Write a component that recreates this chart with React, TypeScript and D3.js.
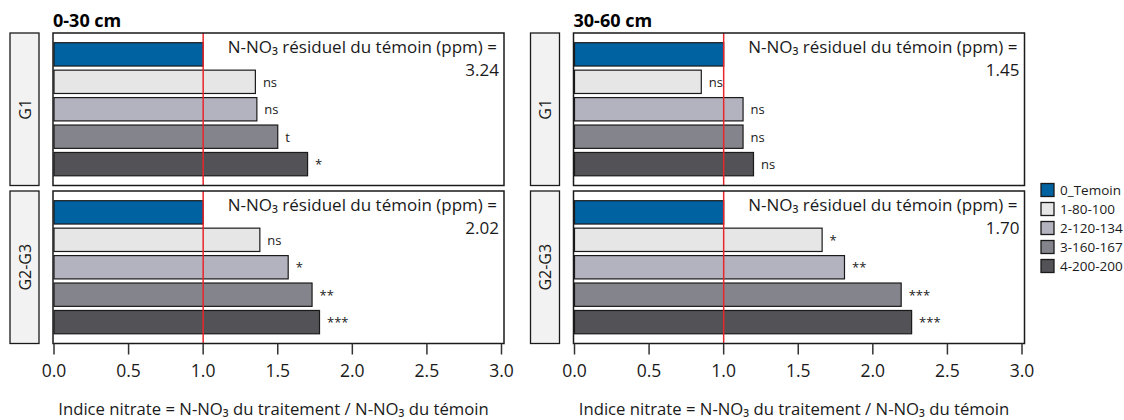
import React from "react";
import * as d3 from "d3";

const depths = ["0-30 cm", "30-60 cm"];
const groups = ["G1", "G2-G3"];
const treatments = ["0_Temoin", "1-80-100", "2-120-134", "3-160-167", "4-200-200"];
const colors = ["#0062A1", "#E6E6E6", "#B3B3BF", "#84848C", "#525257"];

const values_0_30_G1 = [1.0, 1.35, 1.36, 1.5, 1.7];
const values_0_30_G2G3 = [1.0, 1.38, 1.57, 1.73, 1.78];
const values_30_60_G1 = [1.0, 0.85, 1.13, 1.13, 1.2];
const values_30_60_G2G3 = [1.0, 1.66, 1.81, 2.19, 2.26];

const signif_0_30_G1 = ["", "ns", "ns", "t", "*"];
const signif_0_30_G2G3 = ["", "ns", "*", "**", "***"];
const signif_30_60_G1 = ["", "ns", "ns", "ns", "ns"];
const signif_30_60_G2G3 = ["", "*", "**", "***", "***"];

const residual_0_30 = ["3.24", "2.02"];
const residual_30_60 = ["1.45", "1.70"];

const xTicks = [0, 0.5, 1.0, 1.5, 2.0, 2.5, 3.0];

const annotationText = "N-NO₃ résiduel du témoin (ppm) =";
const axisTitle = "Indice nitrate = N-NO₃ du traitement / N-NO₃ du témoin";

const FONT = "'Open Sans', Lato, sans-serif";

const panelsData = [
  { values: [values_0_30_G1, values_0_30_G2G3], signif: [signif_0_30_G1, signif_0_30_G2G3], resid: residual_0_30 },
  { values: [values_30_60_G1, values_30_60_G2G3], signif: [signif_30_60_G1, signif_30_60_G2G3], resid: residual_30_60 },
];

export default function App() {
  const W = 1124;
  const H = 420;
  const panelLefts = [53, 573.5];
  const panelW = 451;
  const panelTops = [33, 191];
  const panelH = 152.5;

  const y = d3
    .scaleBand<string>()
    .domain(treatments)
    .range([0, panelH])
    .paddingInner(0.15)
    .paddingOuter(0.354);

  return (
    <svg
      width={W}
      height={H}
      viewBox={`0 0 ${W} ${H}`}
      style={{ position: "absolute", left: 0, top: 0, background: "#fff" }}
      fontFamily={FONT}
    >
      <rect x={0} y={0} width={W} height={H} fill="#fff" />
      {depths.map((depth, di) => {
        const pl = panelLefts[di];
        const x = d3.scaleLinear().domain([0, 3]).range([pl + 1, pl + 448.5]);
        const pd = panelsData[di];
        return (
          <g key={depth}>
            <text x={pl} y={27} fontSize={18} fontWeight="bold" fill="#000">
              {depth}
            </text>
            {groups.map((grp, gi) => {
              const pt = panelTops[gi];
              const vals = pd.values[gi];
              const sig = pd.signif[gi];
              return (
                <g key={grp}>
                  <rect
                    x={pl - 43}
                    y={pt}
                    width={29}
                    height={panelH}
                    fill="#F2F2F2"
                    stroke="#1a1a1a"
                    strokeWidth={1.3}
                  />
                  <text
                    transform={`translate(${pl - 28.5},${pt + panelH / 2}) rotate(-90)`}
                    textAnchor="middle"
                    dominantBaseline="central"
                    fontSize={16}
                    fill="#1a1a1a"
                  >
                    {grp}
                  </text>
                  <rect x={pl} y={pt} width={panelW} height={panelH} fill="#fff" />
                  {treatments.map((t, i) => (
                    <rect
                      key={t}
                      x={x(0)}
                      y={pt + (y(t) as number)}
                      width={x(vals[i]) - x(0)}
                      height={y.bandwidth()}
                      fill={colors[i]}
                      stroke="#1a1a1a"
                      strokeWidth={1.2}
                    />
                  ))}
                  {treatments.map((t, i) =>
                    sig[i] ? (
                      <text
                        key={t + "s"}
                        x={x(vals[i]) + 7.5}
                        y={pt + (y(t) as number) + y.bandwidth() / 2}
                        dominantBaseline="central"
                        fontSize={13}
                        fill="#1a1a1a"
                      >
                        {sig[i]}
                      </text>
                    ) : null
                  )}
                  <line
                    x1={x(1)}
                    x2={x(1)}
                    y1={pt}
                    y2={pt + panelH}
                    stroke="#E8262B"
                    strokeWidth={1.5}
                  />
                  <text x={pl + 444} y={pt + 19.5} textAnchor="end" fontSize={17} fill="#1a1a1a">
                    {annotationText}
                  </text>
                  <text x={pl + 446} y={pt + 42.5} textAnchor="end" fontSize={17} fill="#1a1a1a">
                    {pd.resid[gi]}
                  </text>
                  <rect
                    x={pl}
                    y={pt}
                    width={panelW}
                    height={panelH}
                    fill="none"
                    stroke="#1a1a1a"
                    strokeWidth={1.5}
                  />
                </g>
              );
            })}
            <g>
              {xTicks.map((tk) => (
                <g key={tk}>
                  <line
                    x1={x(tk)}
                    x2={x(tk)}
                    y1={panelTops[1] + panelH}
                    y2={panelTops[1] + panelH + 11}
                    stroke="#333"
                    strokeWidth={1.5}
                  />
                  <text
                    x={x(tk)}
                    y={377}
                    textAnchor="middle"
                    fontSize={17.5}
                    fill="#1a1a1a"
                  >
                    {tk.toFixed(1)}
                  </text>
                </g>
              ))}
              <text
                x={pl + panelW / 2 - 5}
                y={415}
                textAnchor="middle"
                fontSize={16.7}
                fill="#1a1a1a"
              >
                {axisTitle}
              </text>
            </g>
          </g>
        );
      })}
      <g>
        {treatments.map((t, i) => (
          <g key={t} transform={`translate(1041,${190 + i * 19})`}>
            <rect x={0} y={-6.5} width={13} height={13} fill={colors[i]} stroke="#1a1a1a" strokeWidth={1.3} />
            <text x={19} y={0} dominantBaseline="central" fontSize={13.5} fill="#1a1a1a">
              {t}
            </text>
          </g>
        ))}
      </g>
    </svg>
  );
}
